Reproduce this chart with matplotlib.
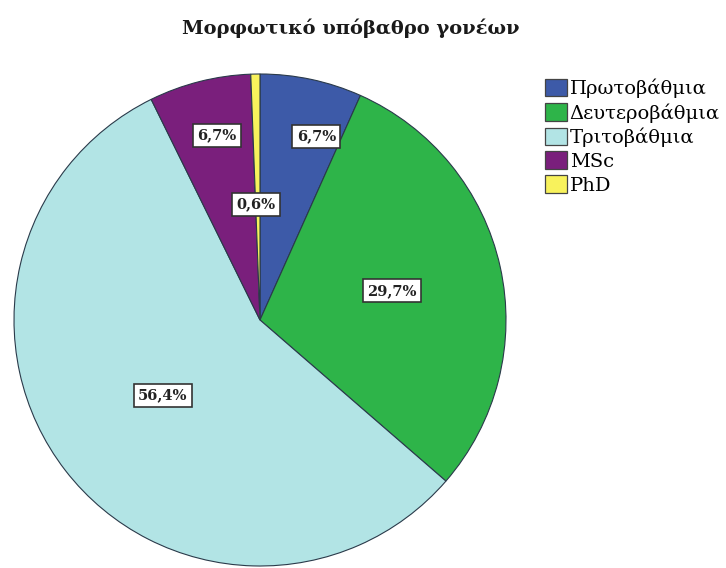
import matplotlib
matplotlib.use("Agg")
import matplotlib.pyplot as plt
import numpy as np
from matplotlib.patches import Patch

categories = ["Πρωτοβάθμια", "Δευτεροβάθμια", "Τριτοβάθμια", "MSc", "PhD"]
values = [6.7, 29.7, 56.4, 6.7, 0.6]
value_labels = ["6,7%", "29,7%", "56,4%", "6,7%", "0,6%"]
colors = ["#3d5aa8", "#2eb449", "#b2e4e5", "#7a1f7c", "#f8f25c"]
title = "Μορφωτικό υπόβαθρο γονέων"

# label placement (fraction of radius, angular offset in degrees)
label_r = [0.78, 0.55, 0.50, 0.77, 0.47]
label_shift = [-5, 0, 0, -1, 1]

plt.rcParams['font.family'] = ['DejaVu Serif', 'Liberation Serif']

W, H = 726, 568
fig = plt.figure(figsize=(W / 100, H / 100), dpi=100)
ax = fig.add_axes([0, 0, 1, 1])
cx, cy, R = 260, H - 320, 246
wedges, _ = ax.pie(values, colors=colors, startangle=90, counterclock=False,
                   center=(cx, cy), radius=R,
                   wedgeprops=dict(edgecolor="#2a3a4a", linewidth=0.8))
ax.set_xlim(0, W)
ax.set_ylim(0, H)
ax.set_aspect('equal')
ax.axis('off')

for w, lab, r, sh in zip(wedges, value_labels, label_r, label_shift):
    mid = np.deg2rad((w.theta1 + w.theta2) / 2 + sh)
    x = cx + r * R * np.cos(mid)
    y = cy + r * R * np.sin(mid)
    ax.text(x, y, lab, ha='center', va='center', fontsize=10.5, fontweight='bold',
            color='#222222',
            bbox=dict(boxstyle='square,pad=0.3', facecolor='white',
                      edgecolor='#333333', linewidth=1.2))

fig.text(351 / W, 1 - 28 / H, title, ha='center', va='center',
         fontsize=14, fontweight='bold', color='#1a1a1a')

handles = [Patch(facecolor=c, edgecolor='#444444', linewidth=0.9) for c in colors]
fig.legend(handles, categories, loc='upper left', bbox_to_anchor=(545 / W, 1 - 79 / H),
           frameon=False, fontsize=14, handlelength=1.15, handleheight=0.98,
           handletextpad=0.12, labelspacing=0.24, borderpad=0, borderaxespad=0)

fig.savefig("out.png", dpi=100)
